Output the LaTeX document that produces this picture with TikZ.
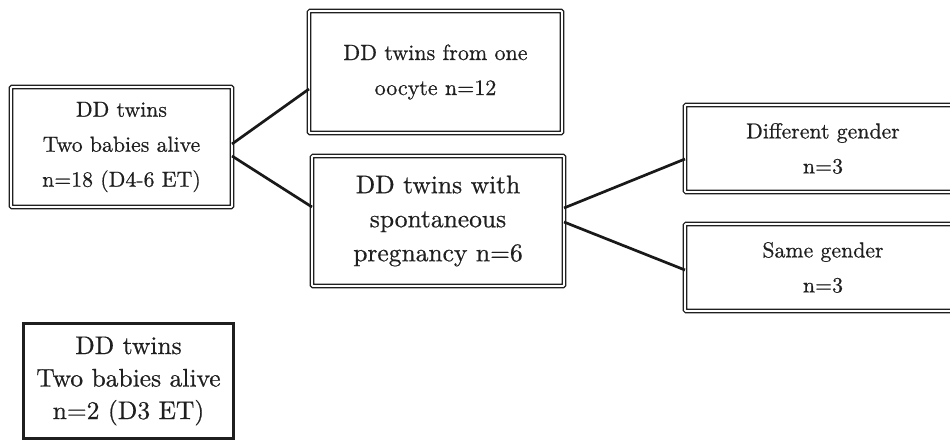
\documentclass[tikz,border=0pt]{standalone}
\usepackage{fontspec}
\setmainfont{lmroman10-regular.otf}[FakeBold=0.6]
\begin{document}
\begin{tikzpicture}[x=1pt,y=-1pt,
  dbox/.style={draw=black!88, line width=1.4pt, double=white, double distance=1.8pt,
     rounded corners=1pt, inner sep=0pt, outer sep=0pt, align=center, text=black!88},
  sbox/.style={draw=black!88, line width=3pt, inner sep=0pt, outer sep=0pt,
     align=center, text=black!88},
  conn/.style={draw=black!90, line width=2.7pt},
  fa/.style={font=\fontsize{21.8}{35}\selectfont},
  fb/.style={font=\fontsize{22}{35}\selectfont},
  fc/.style={font=\fontsize{25.5}{34}\selectfont},
  fd/.style={font=\fontsize{25.5}{32.5}\selectfont}]
\useasboundingbox (0,0) rectangle (950,442);
\clip (0,0) rectangle (950,442);
\node[dbox,fa,minimum width=221pt,minimum height=120pt] (A) at (121.5,147)
  {DD twins\\Two babies alive\\n=18 (D4-6 ET)};
\node[dbox,fb,minimum width=253pt,minimum height=122pt] (B) at (435.5,72)
  {DD twins from one\\oocyte n=12};
\node[dbox,fc,minimum width=252pt,minimum height=130pt] (C) at (438,221)
  {DD twins with\\spontaneous\\pregnancy n=6};
\node[dbox,fa,minimum width=276pt,minimum height=87pt] (E) at (823,148.5)
  {Different gender\\n=3};
\node[dbox,fa,minimum width=276pt,minimum height=87pt] (F) at (823,267.5)
  {Same gender\\n=3};
\node[sbox,fd,minimum width=210pt,minimum height=115pt] (D) at (128.5,381)
  {DD twins\\Two babies alive\\n=2 (D3 ET)};
\draw[conn] ([yshift=3pt]A.east) -- ([yshift=-17pt]B.west);
\draw[conn] ([yshift=-9pt]A.east) -- ([yshift=14pt]C.west);
\draw[conn] ([yshift=13pt]C.east) -- ([yshift=-10.5pt]E.west);
\draw[conn] ([yshift=-1pt]C.east) -- ([yshift=-2.5pt]F.west);
\end{tikzpicture}
\end{document}
